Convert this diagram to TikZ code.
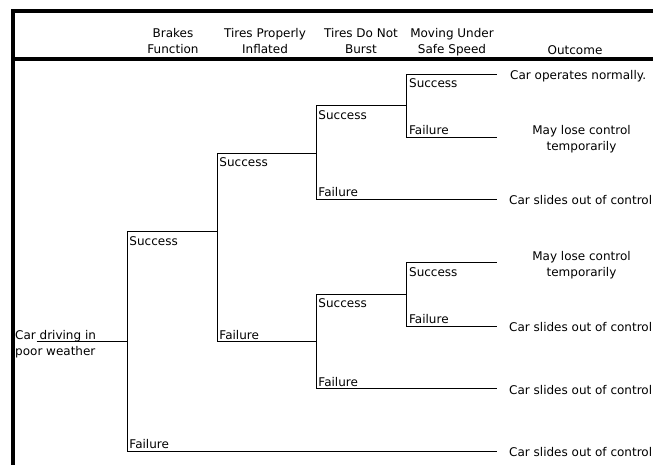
\documentclass[tikz,border=0pt]{standalone}
\usepackage{fontspec}
\setmainfont{DejaVu Sans}
\usepackage{tikz}
\usetikzlibrary{positioning}
\tikzset{
    x=1pt, y=-1pt, % one unit is one pixel of the layout, y runs downwards
    frame/.style={line width=3.5pt}, % the thick table rules
    branch/.style={line width=0.9pt}, % the lines of the tree
    head/.style={align=center, inner sep=0pt, anchor=north}, % column titles
    succ/.style={anchor=north west, inner sep=0pt, xshift=2pt, yshift=-4pt}, % label under a line
    fail/.style={anchor=base west, inner sep=0pt, xshift=2pt, yshift=2.2pt}, % label on a line
    outc/.style={anchor=west, inner sep=0pt, yshift=-1.5pt}, % outcome text
    outm/.style={align=center, inner sep=0pt, yshift=-2pt} % two line outcome text
}

\begin{document}
\begin{tikzpicture}[font=\fontsize{12}{16}\selectfont]
		\clip (0,0) rectangle (653,465);
		
		% Tabla
		\coordinate (TL) at (13,11);
		\coordinate (TR) at (660,11);
		\coordinate (HL) at (13,59);
		\coordinate (HR) at (660,59);
		\coordinate (BL) at (13,470);
		\draw[frame] (TR) -- (TL) -- (BL);
		\draw[frame] (HL) -- (HR);
		
		% Titulos
		\node[head] (HB) at (173,28.5) {Brakes\\Function};
		\node[head] (HT) at (265,28.5) {Tires Properly\\Inflated};
		\node[head] (HD) at (361,28.5) {Tires Do Not\\Burst};
		\node[head] (HM) at (452,28.5) {Moving Under\\Safe Speed};
		\node[anchor=base, inner sep=0pt] (HO) at (575,54.5) {Outcome};
		
		% Puntos
		\node[anchor=north west, align=left, inner sep=0pt] (CD) at (15,330) {Car driving in\\poor weather};
		\coordinate (R) at (36.7,341.7);
		\coordinate (B) at (127,341.7);
		\coordinate (T) at (217,231.7);
		\coordinate (D1) at (316,153.3);
		\coordinate (D2) at (316,341.7);
		\coordinate (M1) at (406.7,105.7);
		\coordinate (M2) at (406.7,294.3);
		\coordinate (E1) at (497,74.3);
		\coordinate (E2) at (497,137);
		\coordinate (E3) at (497,199);
		\coordinate (E4) at (497,262.7);
		\coordinate (E5) at (497,326);
		\coordinate (E6) at (497,388.3);
		\coordinate (E7) at (497,451);
		
		% Ramas
		\draw[branch] (R) -- (B);
		\draw[branch] (B) |- node[succ, pos=.5] (BS) {Success} (T);
		\draw[branch] (B) |- node[fail, pos=.5] (BF) {Failure} (E7);
		\draw[branch] (T) |- node[succ, pos=.5] (TS) {Success} (D1);
		\draw[branch] (T) |- node[fail, pos=.5] (TF) {Failure} (D2);
		\draw[branch] (D1) |- node[succ, pos=.5] (DS1) {Success} (M1);
		\draw[branch] (D1) |- node[fail, pos=.5] (DF1) {Failure} (E3);
		\draw[branch] (M1) |- node[succ, pos=.5] (MS1) {Success} (E1);
		\draw[branch] (M1) |- node[fail, pos=.5] (MF1) {Failure} (E2);
		\draw[branch] (D2) |- node[succ, pos=.5] (DS2) {Success} (M2);
		\draw[branch] (D2) |- node[fail, pos=.5] (DF2) {Failure} (E6);
		\draw[branch] (M2) |- node[succ, pos=.5] (MS2) {Success} (E4);
		\draw[branch] (M2) |- node[fail, pos=.5] (MF2) {Failure} (E5);
		
		% Resultados
		\node[outc, right=13pt of E1] (O1) {Car operates normally.};
		\node[outm] (O2) at (581.5,137) {May lose control\\temporarily};
		\node[outc, right=12pt of E3] (O3) {Car slides out of control};
		\node[outm] (O4) at (581.5,262.7) {May lose control\\temporarily};
		\node[outc, right=12pt of E5] (O5) {Car slides out of control};
		\node[outc, right=12pt of E6] (O6) {Car slides out of control};
		\node[outc, right=12pt of E7] (O7) {Car slides out of control};
	\end{tikzpicture}
\end{document}
